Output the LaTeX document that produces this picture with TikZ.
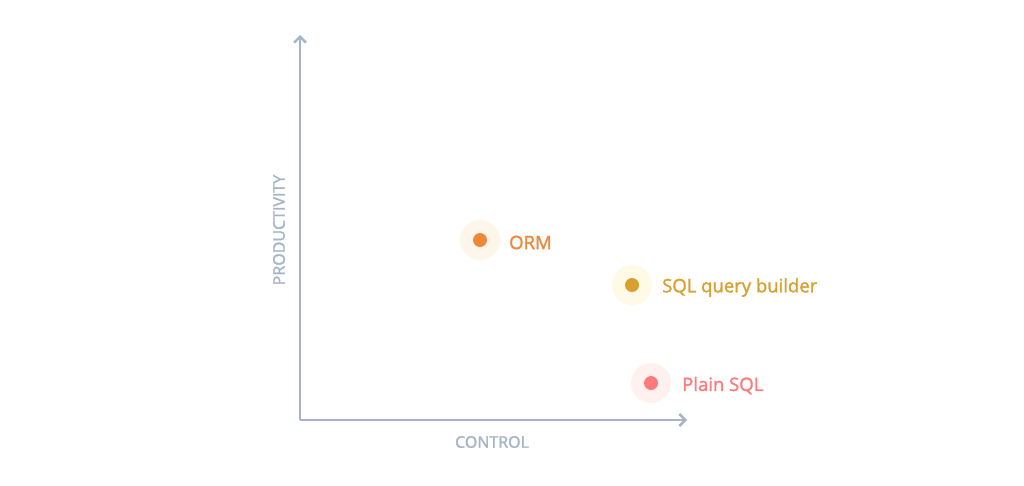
\documentclass[tikz,border=0pt]{standalone}
\usepackage{fontspec}
\setmainfont{Open Sans}
\newfontfamily\semib{Open Sans}[FakeBold=1.6]
\usetikzlibrary{arrows.meta}
\definecolor{axisc}{HTML}{A5B4C8}
\definecolor{ormc}{HTML}{F0883A}
\definecolor{ormh}{HTML}{FEF6EA}
\definecolor{qbc}{HTML}{D9A030}
\definecolor{qbh}{HTML}{FEFAE6}
\definecolor{psc}{HTML}{FF7B7B}
\definecolor{psh}{HTML}{FFF1EF}
\tikzset{
  axis/.style={draw=axisc, line width=2.4pt, -{Straight Barb[length=6pt,width=12pt,line width=2.4pt]}},
  axlabel/.style={text=axisc, font=\semib\fontsize{16}{18}\selectfont, inner sep=0pt},
  halo/.style={circle, minimum size=40pt, inner sep=0pt},
  dot/.style={circle, minimum size=14pt, inner sep=0pt},
  ptlabel/.style={anchor=west, inner sep=0pt, font=\semib\fontsize{18.5}{20}\selectfont}
}
\begin{document}
\begin{tikzpicture}[x=1pt,y=-1pt]
\path[use as bounding box, fill=white] (0,0) rectangle (1024,485);
\coordinate (O) at (300,420);
\coordinate (Ytop) at (300,35);
\coordinate (Xend) at (687,420);
\draw[axis] (O) -- (Ytop);
\draw[axis] (O) -- (Xend);
\node[axlabel, rotate=90] (ylab) at (279,230) {PRODUCTIVITY};
\node[axlabel] (xlab) at (492,442) {CONTROL};
\node[halo, fill=ormh] (ormhalo) at (480,240) {};
\node[dot, fill=ormc] (ormdot) at (480,240) {};
\node[ptlabel, text=ormc] (ormtxt) at (509,242.5) {ORM};
\node[halo, fill=qbh] (qbhalo) at (632,285) {};
\node[dot, fill=qbc] (qbdot) at (632,285) {};
\node[ptlabel, text=qbc] (qbtxt) at (662,287.5) {SQL query builder};
\node[halo, fill=psh] (pshalo) at (651,383) {};
\node[dot, fill=psc] (psdot) at (651,383) {};
\node[ptlabel, text=psc] (pstxt) at (682,385.5) {Plain SQL};
\end{tikzpicture}
\end{document}
